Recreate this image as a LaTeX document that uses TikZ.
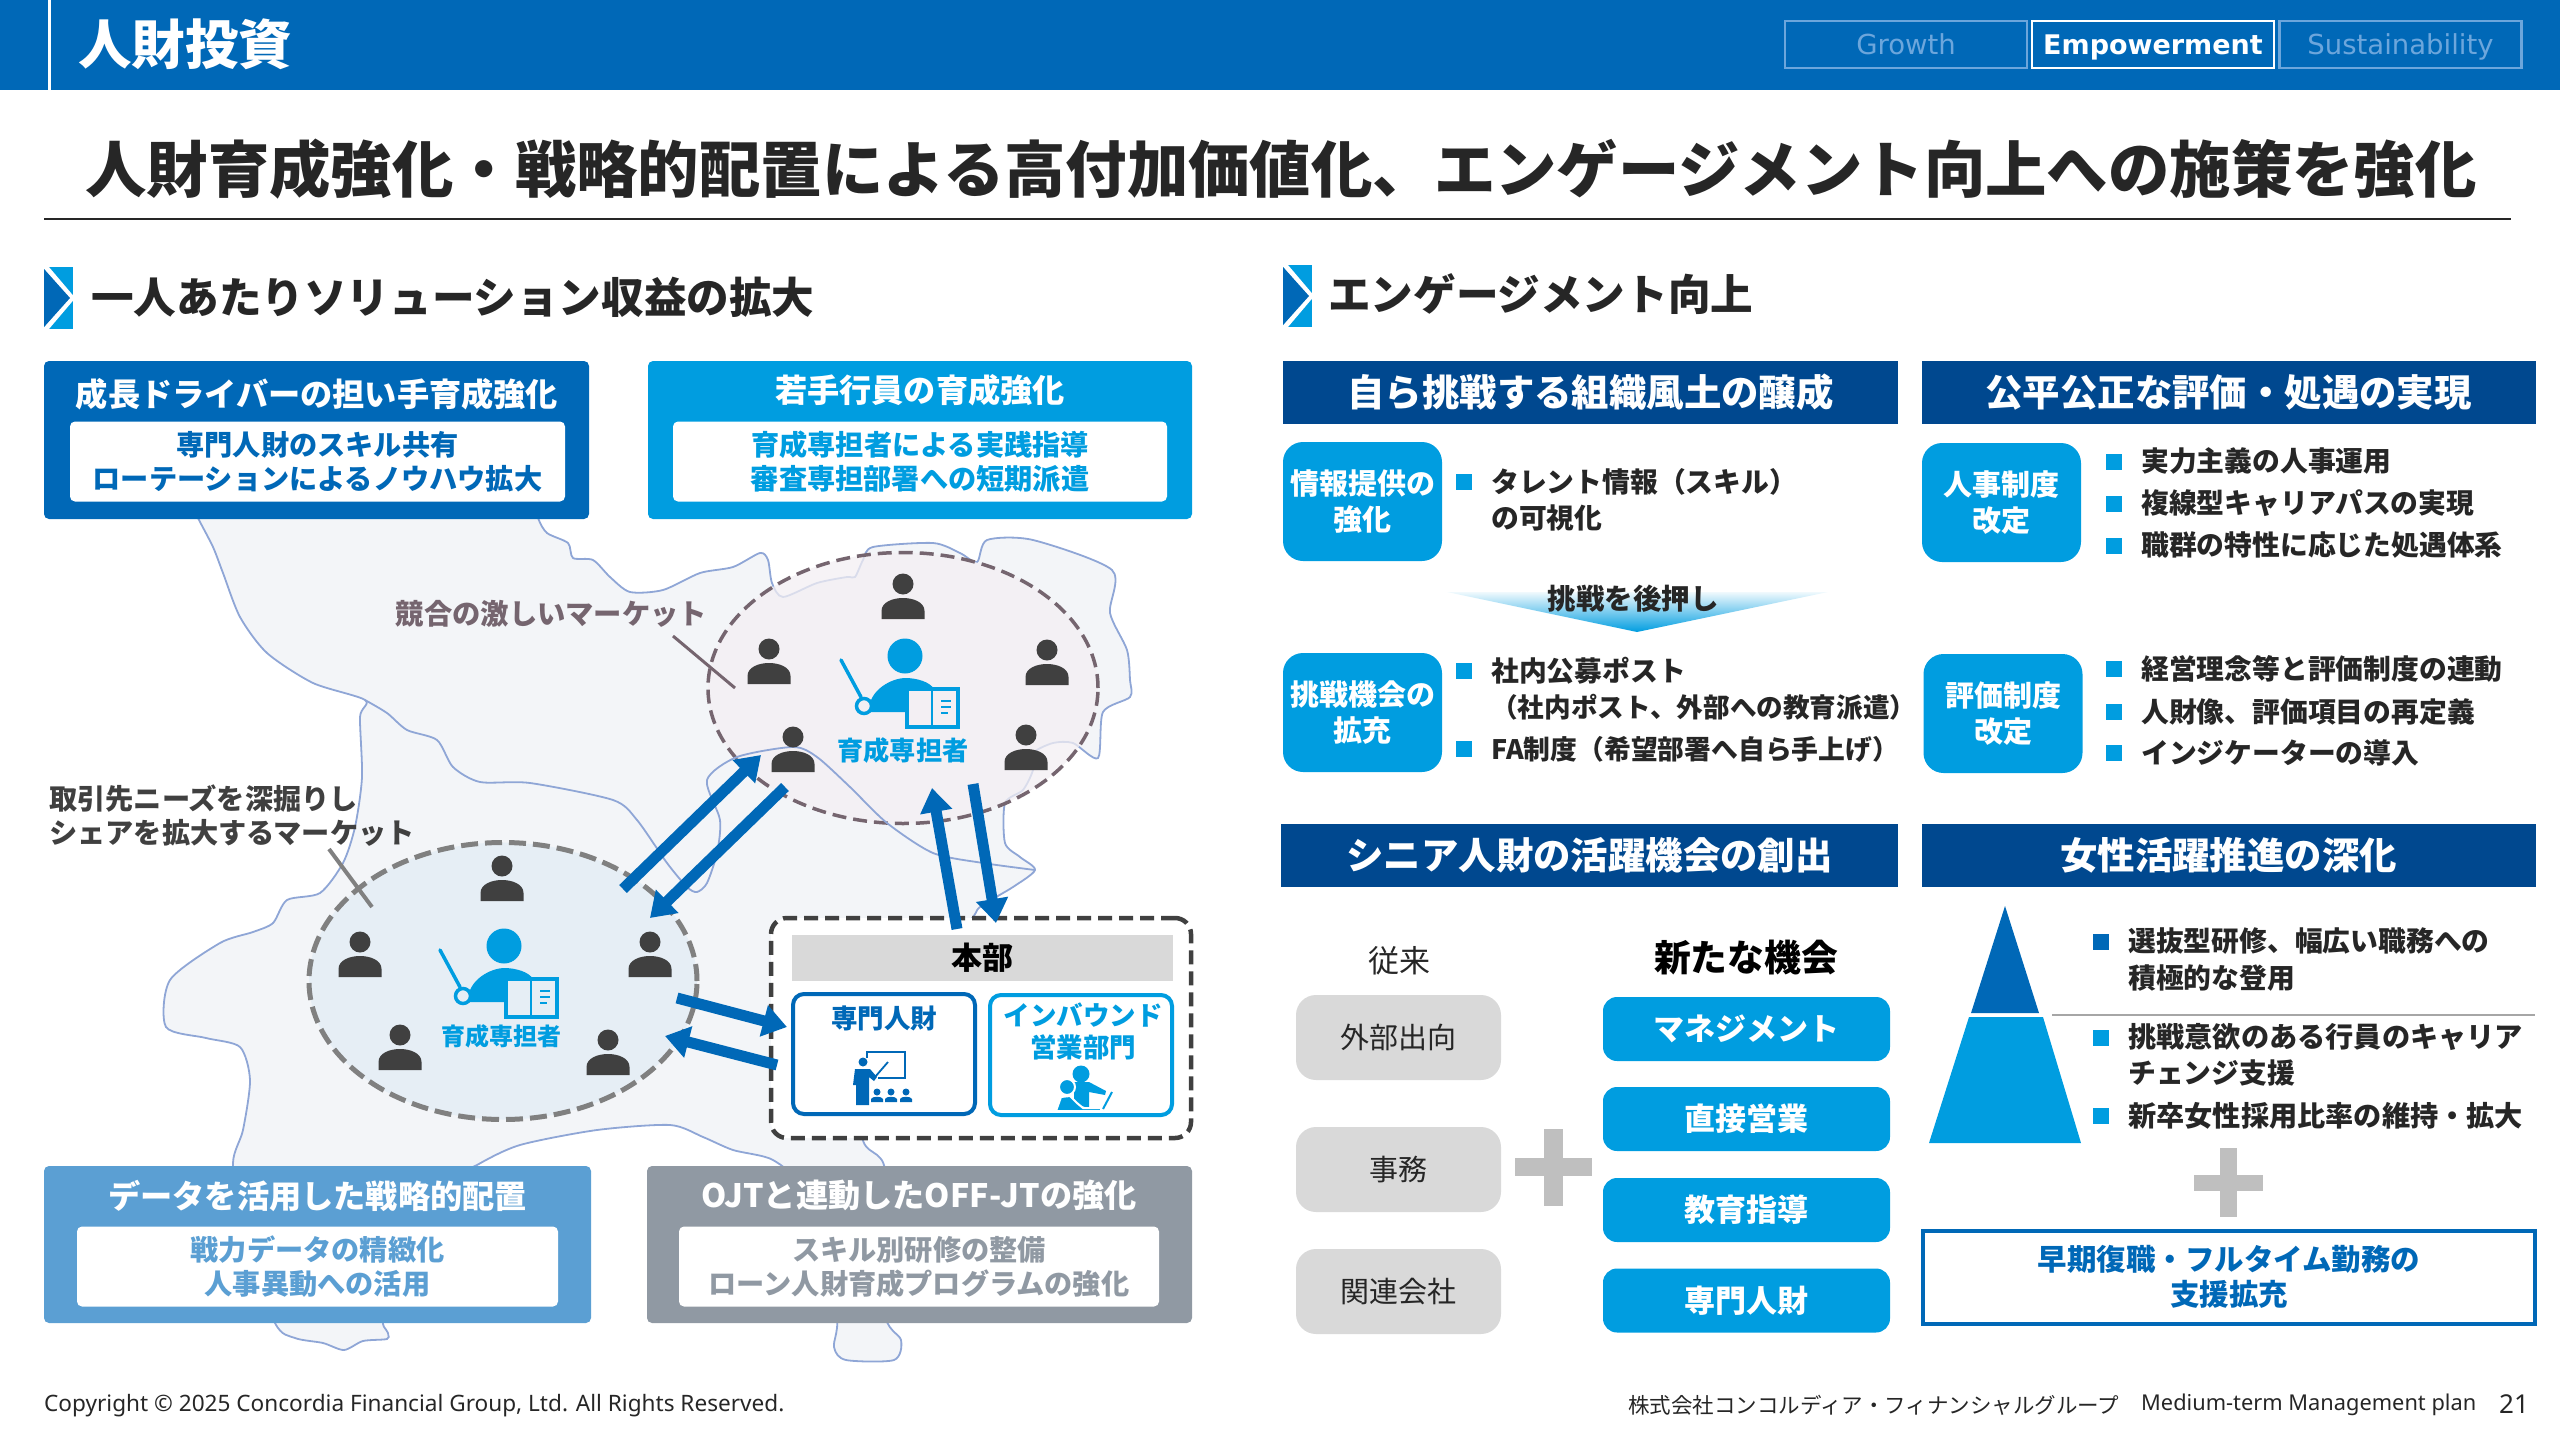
\documentclass[tikz,border=0pt]{standalone}
\usepackage{fontspec}
\setmainfont{Noto Sans CJK JP}
\newfontfamily\latinfont{DejaVu Sans}
\newfontfamily\footfont{Noto Sans}
\usetikzlibrary{arrows.meta,shapes.geometric}

\definecolor{bandblue}{HTML}{0068B7}
\definecolor{skyblue}{HTML}{009DE0}
\definecolor{navyblue}{HTML}{00488F}
\definecolor{softblue}{HTML}{5B9FD3}
\definecolor{slategray}{HTML}{9099A3}
\definecolor{tablight}{HTML}{6CA6DC}
\definecolor{inktext}{HTML}{262626}
\definecolor{mapfill}{HTML}{F3F5F8}
\definecolor{mapline}{HTML}{8FA6D6}
\definecolor{personcolor}{HTML}{404040}
\definecolor{rivalcolor}{HTML}{75656F}
\definecolor{plusgray}{HTML}{BFBFBF}
\definecolor{chipgray}{HTML}{D9D9D9}
\definecolor{upperfill}{HTML}{F3EFF3}
\definecolor{lowerfill}{HTML}{E6EEF5}
\colorlet{teacherbg}{upperfill}

\newcommand{\fsize}[2]{\fontsize{#1}{#2}\selectfont}

\tikzset{
  panel/.style={rounded corners=5pt, inner sep=0pt, text=white, font=\fsize{32}{38}\bfseries},
  whitecard/.style={fill=white, rounded corners=5pt, inner sep=0pt, align=center, font=\fsize{28.2}{34}\bfseries},
  headbar/.style={fill=navyblue, inner sep=0pt, text=white, minimum height=63pt, font=\fsize{37.4}{44}\bfseries},
  bluechip/.style={fill=skyblue, rounded corners=20pt, inner sep=0pt, text=white, align=center, minimum width=159pt, minimum height=119pt, font=\fsize{29}{36}\bfseries},
  graychip/.style={fill=chipgray, rounded corners=20pt, inner sep=0pt, text=inktext, minimum width=205pt, minimum height=85pt, font=\fsize{29}{34}},
  newchip/.style={fill=skyblue, rounded corners=14pt, inner sep=0pt, text=white, minimum width=287pt, minimum height=64pt, font=\fsize{31}{36}\bfseries},
  bulletmark/.style={fill=skyblue, inner sep=0pt, minimum size=16pt},
  itemtext/.style={anchor=west, inner sep=0pt, text=inktext, font=\fsize{27.8}{33}\bfseries},
  tabbox/.style={draw=tablight, line width=2.5pt, inner sep=0pt, minimum width=242pt, minimum height=47pt, text=tablight, text height=23pt, text depth=3pt, font=\latinfont\fsize{27.5}{30}},
  flowarrow/.style={line width=11pt, bandblue, -{Triangle[width=31pt,length=24pt]}},
  plusmark/.style={fill=plusgray},
  personicon/.pic={
    \fill[personcolor] (0,0) circle (10.5);
    \fill[personcolor] (-21.5,35) -- (-21.5,27) .. controls (-21.5,18) and (-10,14) .. (0,14) .. controls (10,14) and (21.5,18) .. (21.5,27) -- (21.5,35) -- cycle;
  },
  teachericon/.pic={
    \fill[skyblue] (0,0) circle (17.5);
    \fill[skyblue] (-35,56) -- (-35,47) .. controls (-30,30) and (-10,22) .. (0,22) .. controls (12,22) and (25,26) .. (29,33) -- (29,56) -- cycle;
    \draw[skyblue, line width=3.5pt, line cap=round] (-64,4) -- (-44,41);
    \draw[skyblue, line width=3.5pt, fill=teacherbg] (-41,50) circle (7.5);
    \draw[skyblue, line width=3.5pt, fill=teacherbg] (2,33) rectangle (53,71);
    \draw[skyblue, line width=2.5pt] (27,33) -- (27,71);
    \draw[skyblue, line width=2pt] (36,45) -- (46,45) (36,51) -- (46,51) (36,57) -- (43,57);
  },
  sectionmark/.pic={
    \fill[skyblue] (0,0) rectangle (29,62);
    \draw[white, line width=5pt] (0,-2) -- (28,31) -- (0,64);
    \fill[bandblue] (0,2) -- (26,31) -- (0,60) -- cycle;
    \fill[white] (-3,-3) rectangle (0,65);
  },
}

\begin{document}
\begin{tikzpicture}[x=1pt, y=-1pt]
\useasboundingbox (0,0) rectangle (2560,1440);

% banda superior
\fill[bandblue] (0,0) rectangle (2560,90);
\draw[white, line width=3pt] (49,0) -- (49,90);
\node (bandtitle) at (185,44) [text=white, inner sep=0pt, font=\fsize{53.5}{60}\bfseries] {人財投資};
\node (tabgrowth) at (1906,44.5) [tabbox] {Growth};
\node (tabempower) at (2153,44.5) [tabbox, draw=white, text=white, font=\latinfont\fsize{27}{30}\bfseries] {Empowerment};
\node (tabsustain) at (2400.5,44.5) [tabbox] {Sustainability};

% titulo
\node (maintitle) at (1281,169.5) [inner sep=0pt, text=inktext, font=\fsize{61.4}{70}\bfseries] {人財育成強化・戦略的配置による高付加価値化、エンゲージメント向上への施策を強化};
\draw[inktext, line width=1.5pt] (44,219) -- (2511,219);

% secciones
\pic at (44,267) {sectionmark};
\node (leftsection) at (91,297) [anchor=west, inner sep=0pt, text=inktext, font=\fsize{42.6}{50}\bfseries] {一人あたりソリューション収益の拡大};
\pic at (1283,265) {sectionmark};
\node (rightsection) at (1328,294) [anchor=west, inner sep=0pt, text=inktext, font=\fsize{42.6}{50}\bfseries] {エンゲージメント向上};

% mapa
\filldraw[fill=mapfill, draw=mapline, line width=1.8pt] plot[smooth cycle, tension=0.45] coordinates {
  (190,500) (198,518) (213,547) (223,573) (240,617) (267,653) (313,683) (365,700)
  (360,717) (362,777) (355,827) (343,863) (320,893) (287,900) (273,923) (253,932) (220,943)
  (170,980) (166,1027) (206,1038) (240,1047) (250,1080) (243,1130) (233,1163) (240,1230) (275,1323)
  (295,1338) (323,1343) (344,1350) (363,1341) (387,1339) (388,1333) (385,1310) (440,1190) (477,1165)
  (520,1145) (597,1130) (670,1125) (703,1137) (733,1150) (773,1160) (800,1190) (836,1310)
  (834,1347) (846,1360) (894,1360) (901,1340) (884,1310) (885,1170) (862,1135) (870,1000) (965,925)
  (980,907) (1013,887) (1035,870) (1020,857) (1005,843) (1005,803) (1023,790) (1033,770) (1033,753)
  (1053,743) (1073,743) (1098,758) (1103,712) (1130,697) (1130,680) (1127,650) (1110,613) (1112,570)
  (1033,540) (987,540) (977,562) (960,553) (933,543) (873,547) (863,560) (855,577) (847,577)
  (817,583) (783,597) (772,583) (768,560) (760,553) (733,567) (700,573) (663,590) (630,592)
  (610,577) (593,560) (573,558) (568,543) (547,533) (538,518) (530,490) (300,490)
};

% areas de mercado
\node (rivalarea) at (903,688) [draw=rivalcolor, fill=upperfill, fill opacity=0.75, draw opacity=1, line width=3.5pt, dash pattern=on 14pt off 7pt, ellipse, minimum width=390pt, minimum height=271pt, inner sep=0pt] {};
\node (shararea) at (503,981) [draw=gray, fill=lowerfill, line width=5pt, dash pattern=on 17pt off 7pt, ellipse, minimum width=388pt, minimum height=277pt, inner sep=0pt] {};

% linea interior del mapa
\draw[mapline, line width=1.8pt] plot[smooth, tension=0.45] coordinates {
  (365,700) (387,713) (407,730) (437,740) (453,767) (480,782) (530,783) (613,800) (637,820) (667,863)
  (687,887) (697,892) (707,883) (717,853) (720,820) (707,780) (737,757) (793,747) (817,757) (850,787)
  (887,823) (933,853) (983,863) (1035,870)
};

% personas arriba
\colorlet{teacherbg}{upperfill}
\pic at (903,584) {personicon};
\pic at (769,649) {personicon};
\pic at (1047,650) {personicon};
\pic at (793,737) {personicon};
\pic at (1026,735) {personicon};
\pic at (905,656) {teachericon};
\node (rivallabel) at (903,751) [inner sep=0pt, text=skyblue, font=\fsize{26.2}{30}\bfseries] {育成専担者};

% personas abajo
\colorlet{teacherbg}{lowerfill}
\pic at (502,866) {personicon};
\pic at (360,942) {personicon};
\pic at (650,942) {personicon};
\pic at (400,1035) {personicon};
\pic at (608,1040) {personicon};
\pic at (504,946) {teachericon};
\node (sharlabel) at (501,1036) [inner sep=0pt, text=skyblue, font=\fsize{24}{30}\bfseries] {育成専担者};

% textos de mercado
\node (rivaltext) at (551.5,613.5) [inner sep=0pt, text=rivalcolor, font=\fsize{28.3}{34}\bfseries] {競合の激しいマーケット};
\coordinate (rivalfrom) at (673,636);
\coordinate (rivalto) at (735,688);
\draw[rivalcolor, line width=3pt] (rivalfrom) -- (rivalto);
\node (shartext) at (49,816) [anchor=west, align=left, inner sep=0pt, text=personcolor, font=\fsize{28.2}{34}\bfseries] {取引先ニーズを深掘りし\\シェアを拡大するマーケット};
\coordinate (sharfrom) at (329,849);
\coordinate (sharto) at (372,907);
\draw[gray, line width=4pt] (sharfrom) -- (sharto);

% cajas de la izquierda
\node (drivers) at (316.5,440) [panel, fill=bandblue, minimum width=545pt, minimum height=158pt] {};
\node (driverstitle) at (317,394) [inner sep=0pt, text=white, font=\fsize{32.2}{38}\bfseries] {成長ドライバーの担い手育成強化};
\node (driverscard) at (317.5,461.5) [whitecard, text=bandblue, minimum width=495pt, minimum height=80pt] {専門人財のスキル共有\\ローテーションによるノウハウ拡大};
\node (young) at (920,440) [panel, fill=skyblue, minimum width=544pt, minimum height=158pt] {};
\node (youngtitle) at (920,390) [inner sep=0pt, text=white, font=\fsize{32.2}{38}\bfseries] {若手行員の育成強化};
\node (youngcard) at (920,461.5) [whitecard, text=skyblue, minimum width=494pt, minimum height=80pt] {育成専担者による実践指導\\審査専担部署への短期派遣};
\node (datacase) at (317.5,1244.5) [panel, fill=softblue, minimum width=547pt, minimum height=157pt] {};
\node (datatitle) at (317.5,1195.5) [inner sep=0pt, text=white, font=\fsize{32.2}{38}\bfseries] {データを活用した戦略的配置};
\node (datacard) at (317.5,1266.5) [whitecard, text=softblue, minimum width=481pt, minimum height=80pt] {戦力データの精緻化\\人事異動への活用};
\node (ojtcase) at (919.5,1244.5) [panel, fill=slategray, minimum width=545pt, minimum height=157pt] {};
\node (ojttitle) at (919,1195.5) [inner sep=0pt, text=white, font=\fsize{32.2}{38}\bfseries] {OJTと連動したOFF-JTの強化};
\node (ojtcard) at (919,1266.5) [whitecard, text=slategray, minimum width=480pt, minimum height=80pt] {スキル別研修の整備\\ローン人財育成プログラムの強化};

% honbu
\node (honbu) at (981,1028) [draw=personcolor, fill=white, line width=4.5pt, dash pattern=on 14pt off 7pt, rounded corners=16pt, minimum width=420pt, minimum height=220pt, inner sep=0pt] {};
\node (honbubar) at (982.5,958) [fill=chipgray, minimum width=381pt, minimum height=46pt, inner sep=0pt, text=black, font=\fsize{31}{36}\bfseries] {本部};
\node (expertbox) at (884,1054) [draw=bandblue, line width=4pt, rounded corners=11pt, fill=white, minimum width=182pt, minimum height=120pt, inner sep=0pt] {};
\node (expertlabel) at (884,1018) [inner sep=0pt, text=bandblue, font=\fsize{26.5}{30}\bfseries] {専門人財};
\node (inboundbox) at (1081,1055) [draw=skyblue, line width=4pt, rounded corners=11pt, fill=white, minimum width=182pt, minimum height=120pt, inner sep=0pt] {};
\node (inboundlabel) at (1083,1031) [align=center, inner sep=0pt, text=skyblue, font=\fsize{26.5}{32}\bfseries] {インバウンド\\営業部門};

% icono de formacion
\draw[bandblue, line width=2.5pt] (867,1058) -- (867,1052) -- (905,1052) -- (905,1078) -- (878,1078);
\fill[bandblue] (863,1062) circle (4.5);
\fill[bandblue] (853,1085) -- (855,1069) -- (870,1069) -- (877,1077) -- (874,1081) -- (869,1077) -- (869,1105) -- (856,1105) -- (856,1085) -- cycle;
\draw[bandblue, line width=1.8pt] (875,1077) -- (888,1062);
\fill[bandblue] (877,1092) circle (3.5) (871,1102) -- (871,1099) .. controls (872,1096) and (882,1096) .. (883,1099) -- (883,1102) -- cycle;
\fill[bandblue] (891,1092) circle (3.5) (885,1102) -- (885,1099) .. controls (886,1096) and (896,1096) .. (897,1099) -- (897,1102) -- cycle;
\fill[bandblue] (906,1092) circle (3.5) (900,1102) -- (900,1099) .. controls (901,1096) and (911,1096) .. (912,1099) -- (912,1102) -- cycle;

% icono de ventas
\fill[skyblue] (1081,1074) circle (8.5);
\fill[skyblue] (1074,1082) -- (1089,1082) -- (1106,1091) -- (1105,1095) -- (1089,1092) -- (1089,1108) -- (1074,1104) -- cycle;
\draw[white, line width=2pt, fill=skyblue] (1067,1087) circle (8);
\draw[white, line width=2pt, fill=skyblue] (1056,1111) -- (1061,1097) -- (1070,1096) -- (1077,1103) -- (1083,1108) -- (1101,1108) -- (1101,1111) -- cycle;
\draw[skyblue, line width=2pt] (1112,1092) -- (1103,1109);

% flechas
\coordinate (sharout) at (623,889);
\coordinate (rivalin) at (761,755);
\coordinate (rivalout) at (785,787);
\coordinate (sharin) at (650,918);
\coordinate (honbuup) at (957,929);
\coordinate (rivalinb) at (932,788);
\coordinate (rivaloutb) at (973,784);
\coordinate (honbudown) at (996,923);
\coordinate (sharoutb) at (677,998);
\coordinate (expertin) at (787,1027);
\coordinate (expertout) at (777,1065);
\coordinate (sharinb) at (665,1036);
\draw[flowarrow] (sharout) -- (rivalin);
\draw[flowarrow] (rivalout) -- (sharin);
\draw[flowarrow] (honbuup) -- (rivalinb);
\draw[flowarrow] (rivaloutb) -- (honbudown);
\draw[flowarrow] (sharoutb) -- (expertin);
\draw[flowarrow] (expertout) -- (sharinb);

% cabeceras de la derecha
\node (climatehead) at (1590.5,392.5) [headbar, minimum width=615pt] {自ら挑戦する組織風土の醸成};
\node (fairhead) at (2228.5,392.5) [headbar, minimum width=614pt] {公平公正な評価・処遇の実現};
\node (seniorhead) at (1589.5,855.5) [headbar, minimum width=617pt] {シニア人財の活躍機会の創出};
\node (womenhead) at (2228.5,855.5) [headbar, minimum width=614pt] {女性活躍推進の深化};

% bloque izquierdo superior
\node (infochip) at (1362.5,501.5) [bluechip] {情報提供の\\強化};
\node (infobullet) at (1464,482) [bulletmark] {};
\node (infotext) at (1491,482) [itemtext] {タレント情報（スキル）};
\node (infotextb) at (1491,518) [itemtext] {の可視化};
\shade[top color=skyblue!6, bottom color=skyblue] (1447,592) -- (1828,592) -- (1637,632) -- cycle;
\node (pushtext) at (1633,599) [inner sep=0pt, text=inktext, font=\fsize{28.5}{34}\bfseries] {挑戦を後押し};
\node (chancechip) at (1362.5,712.5) [bluechip] {挑戦機会の\\拡充};
\node (chancebullet) at (1464,671) [bulletmark] {};
\node (chancetext) at (1491,671) [itemtext] {社内公募ポスト};
\node (chancetextb) at (1491,707) [itemtext, font=\fsize{26.6}{33}\bfseries] {（社内ポスト、外部への教育派遣）};
\node (fabullet) at (1464,749) [bulletmark] {};
\node (fatext) at (1491,749) [itemtext, font=\fsize{26.8}{33}\bfseries] {FA制度（希望部署へ自ら手上げ）};

% bloque derecho superior
\node (hrchip) at (2001.5,502.5) [bluechip] {人事制度\\改定};
\node (hrbulleta) at (2114,462) [bulletmark] {};
\node (hrtexta) at (2141,461) [itemtext] {実力主義の人事運用};
\node (hrbulletb) at (2114,504) [bulletmark] {};
\node (hrtextb) at (2141,503) [itemtext] {複線型キャリアパスの実現};
\node (hrbulletc) at (2114,546) [bulletmark] {};
\node (hrtextc) at (2141,545) [itemtext] {職群の特性に応じた処遇体系};
\node (evalchip) at (2003,713.5) [bluechip] {評価制度\\改定};
\node (evalbulleta) at (2114,669) [bulletmark] {};
\node (evaltexta) at (2141,669) [itemtext] {経営理念等と評価制度の連動};
\node (evalbulletb) at (2114,712) [bulletmark] {};
\node (evaltextb) at (2141,712) [itemtext] {人財像、評価項目の再定義};
\node (evalbulletc) at (2114,753) [bulletmark] {};
\node (evaltextc) at (2141,753) [itemtext] {インジケーターの導入};

% bloque izquierdo inferior
\node (oldlabel) at (1399,961) [inner sep=0pt, text=inktext, font=\fsize{31}{36}] {従来};
\node (newlabel) at (1746,958) [inner sep=0pt, text=black, font=\fsize{36.8}{42}\bfseries] {新たな機会};
\node (oldchipa) at (1398.5,1037.5) [graychip] {外部出向};
\node (oldchipb) at (1398.5,1169.5) [graychip] {事務};
\node (oldchipc) at (1398.5,1291.5) [graychip] {関連会社};
\node (newchipa) at (1746.5,1029) [newchip] {マネジメント};
\node (newchipb) at (1746.5,1119) [newchip] {直接営業};
\node (newchipc) at (1746.5,1210) [newchip] {教育指導};
\node (newchipd) at (1746.5,1300.5) [newchip] {専門人財};
\fill[plusmark] (1515,1158) rectangle (1592,1176);
\fill[plusmark] (1544,1129) rectangle (1563,1206);

% bloque derecho inferior
\fill[bandblue] (2005,906) -- (2039,1013) -- (1971,1013) -- cycle;
\fill[skyblue] (1969,1017) -- (2043,1017) -- (2081,1143) -- (1929,1143) -- cycle;
\draw[gray!70, line width=2.5pt] (2052,1015) -- (2535,1015);
\node (womenbulleta) at (2101,942) [bulletmark, fill=bandblue] {};
\node (womentexta) at (2128,941) [itemtext] {選抜型研修、幅広い職務への};
\node (womentextb) at (2128,978) [itemtext] {積極的な登用};
\node (womenbulletb) at (2101,1038) [bulletmark] {};
\node (womentextc) at (2128,1037) [itemtext, font=\fsize{28.2}{33}\bfseries] {挑戦意欲のある行員のキャリア};
\node (womentextd) at (2128,1073) [itemtext] {チェンジ支援};
\node (womenbulletc) at (2101,1116) [bulletmark] {};
\node (womentexte) at (2128,1115.5) [itemtext, font=\fsize{28.2}{33}\bfseries] {新卒女性採用比率の維持・拡大};
\fill[plusmark] (2194,1175) rectangle (2263,1191);
\fill[plusmark] (2220,1148) rectangle (2237,1217);
\node (returnbox) at (2229,1277) [draw=bandblue, line width=4pt, fill=white, minimum width=612pt, minimum height=93pt, inner sep=0pt, align=center, text=bandblue, font=\fsize{29.5}{35}\bfseries] {早期復職・フルタイム勤務の\\支援拡充};

% pie
\node (copyright) at (44,1405.5) [anchor=west, inner sep=0pt, text=inktext, font=\footfont\fsize{22.6}{26}] {Copyright © 2025 Concordia Financial Group, Ltd. All Rights Reserved.};
\node (company) at (1628,1405) [anchor=west, inner sep=0pt, text=inktext, font=\fsize{21.5}{26}] {株式会社コンコルディア・フィナンシャルグループ};
\node (planname) at (2141,1405) [anchor=west, inner sep=0pt, text=inktext, font=\footfont\fsize{21.8}{26}] {Medium-term Management plan};
\node (pagenum) at (2514,1404) [inner sep=0pt, text=inktext, font=\footfont\fsize{26}{30}] {21};
\end{tikzpicture}
\end{document}
